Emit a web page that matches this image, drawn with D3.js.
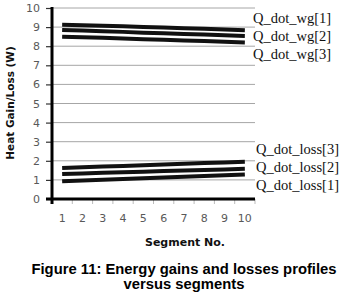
<!DOCTYPE html>
<html>
<head>
<meta charset="utf-8">
<script src="https://cdn.jsdelivr.net/npm/d3@7"></script>
<style>
  body { margin: 0; background: #fff; }
  svg { display: block; }
</style>
</head>
<body>
<script>
// data
const segments = [1, 2, 3, 4, 5, 6, 7, 8, 9, 10]
const yTicks = [0, 1, 2, 3, 4, 5, 6, 7, 8, 9, 10]

const wg1 = [9.12, 9.10, 9.07, 9.04, 9.01, 8.98, 8.94, 8.91, 8.87, 8.84]
const wg2 = [8.85, 8.82, 8.78, 8.75, 8.71, 8.68, 8.64, 8.61, 8.57, 8.54]
const wg3 = [8.50, 8.47, 8.44, 8.40, 8.37, 8.34, 8.30, 8.27, 8.23, 8.20]
const loss3 = [1.62, 1.66, 1.70, 1.73, 1.77, 1.80, 1.84, 1.88, 1.91, 1.95]
const loss2 = [1.31, 1.34, 1.37, 1.40, 1.43, 1.46, 1.49, 1.52, 1.55, 1.58]
const loss1 = [0.93, 0.97, 1.01, 1.05, 1.09, 1.12, 1.16, 1.20, 1.24, 1.28]

const seriesNames = ["Q_dot_wg[1]", "Q_dot_wg[2]", "Q_dot_wg[3]", "Q_dot_loss[3]", "Q_dot_loss[2]", "Q_dot_loss[1]"]
const seriesValues = [wg1, wg2, wg3, loss3, loss2, loss1]
const labelY = [9.48, 8.53, 7.58, 2.62, 1.68, 0.74] // label anchor in data units

const width = 354
const height = 301
const mLeft = 52, mRight = 255, mTop = 8, mBottom = 199

const svg = d3.select("body").append("svg")
    .attr("width", width)
    .attr("height", height)

const x = d3.scaleBand().domain(segments).range([mLeft, mRight])
const y = d3.scaleLinear().domain([0, 10]).range([mBottom, mTop])

// gridlines
svg.append("g")
    .selectAll("line")
    .data(yTicks.slice(1))
    .enter().append("line")
    .attr("x1", mLeft).attr("x2", mRight)
    .attr("y1", d => y(d)).attr("y2", d => y(d))
    .style("stroke", "#a6a6a6")
    .style("stroke-width", 1)

// y axis
const yAxis = svg.append("g")
    .attr("transform", `translate(${mLeft},0)`)
    .call(d3.axisLeft(y).tickValues(yTicks).tickSize(6).tickPadding(6))
yAxis.select(".domain").remove()
yAxis.selectAll(".tick line").style("stroke", "#333").style("stroke-width", 1.2)
yAxis.selectAll("text")
    .style("font-family", "DejaVu Sans")
    .style("font-size", "11px")
    .style("fill", "#595959")
svg.append("line")
    .attr("x1", mLeft).attr("x2", mLeft)
    .attr("y1", mTop - 1).attr("y2", mBottom + 5)
    .style("stroke", "#000").style("stroke-width", 3)

// x axis
const xAxis = svg.append("g")
    .attr("transform", `translate(0,${mBottom})`)
    .call(d3.axisBottom(x).tickSize(0).tickPadding(15))
xAxis.select(".domain").remove()
xAxis.selectAll("text")
    .style("font-family", "DejaVu Sans")
    .style("font-size", "11px")
    .style("fill", "#595959")
svg.append("g")
    .selectAll("line")
    .data(segments.slice(1).concat([11]))
    .enter().append("line")
    .attr("x1", d => d === 11 ? mRight : x(d)).attr("x2", d => d === 11 ? mRight : x(d))
    .attr("y1", mBottom).attr("y2", mBottom + 5)
    .style("stroke", "#bbb").style("stroke-width", 1)
svg.append("line")
    .attr("x1", mLeft - 6).attr("x2", mRight)
    .attr("y1", mBottom).attr("y2", mBottom)
    .style("stroke", "#000").style("stroke-width", 3)

// series
const line = d3.line()
    .x((d, i) => x(segments[i]) + x.bandwidth() / 2)
    .y(d => y(d))

svg.append("g")
    .selectAll("path")
    .data(seriesValues)
    .enter().append("path")
    .attr("d", line)
    .style("fill", "none")
    .style("stroke", "#111")
    .style("stroke-width", 4)

// series labels
svg.append("g")
    .selectAll("text")
    .data(seriesNames)
    .enter().append("text")
    .attr("x", (d, i) => i < 3 ? 253 : 256)
    .attr("y", (d, i) => y(labelY[i]))
    .attr("dy", "0.35em")
    .text(d => d)
    .style("font-family", "Liberation Serif")
    .style("font-size", "14.5px")
    .style("fill", "#111")

// axis titles
svg.append("text")
    .attr("x", 185)
    .attr("y", 246)
    .attr("text-anchor", "middle")
    .text("Segment No.")
    .style("font-family", "DejaVu Sans")
    .style("font-weight", "bold")
    .style("font-size", "11px")
    .style("fill", "#111")

svg.append("text")
    .attr("transform", "translate(14,103) rotate(-90)")
    .attr("text-anchor", "middle")
    .text("Heat Gain/Loss  (W)")
    .style("font-family", "DejaVu Sans")
    .style("font-weight", "bold")
    .style("font-size", "10.5px")
    .style("fill", "#111")

// caption
const caption = ["Figure 11: Energy gains and losses profiles", "versus segments"]
svg.append("g")
    .selectAll("text")
    .data(caption)
    .enter().append("text")
    .attr("x", 184)
    .attr("y", (d, i) => 274 + i * 15)
    .attr("text-anchor", "middle")
    .text(d => d)
    .style("font-family", "Liberation Sans")
    .style("font-weight", "bold")
    .style("font-size", "14.8px")
    .style("fill", "#000")
</script>
</body>
</html>
